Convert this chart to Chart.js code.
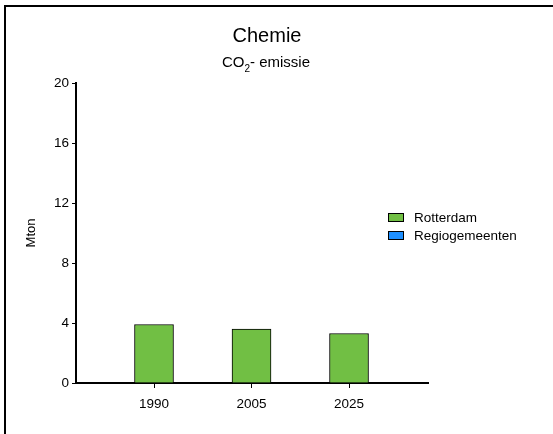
<!DOCTYPE html>
<html>
<head>
<meta charset="utf-8">
<script src="https://cdn.jsdelivr.net/npm/chart.js@4.4.1/dist/chart.umd.min.js"></script>
<style>
  html, body { margin: 0; padding: 0; background: #fff; }
  #c { display: block; }
</style>
</head>
<body>
<canvas id="c" width="553" height="434"></canvas>
<script>
// Chart data
const years = ['1990', '2005', '2025'];
const rotterdam = [3.9, 3.6, 3.3];
const regiogemeenten = [null, null, null];
const seriesNames = ['Rotterdam', 'Regiogemeenten'];
const yMin = 0, yMax = 20, yStep = 4;

const FONT = "'Liberation Sans', Arial, Helvetica, sans-serif";
const GREEN = '#71bf44';
const BLUE = '#1e8fff';

Chart.defaults.font.family = FONT;
Chart.defaults.color = '#000';

// Frame, titles, axis title and legend drawn on top of the chart
const decorations = {
  id: 'decorations',
  afterDraw(chart) {
    const ctx = chart.ctx;
    const area = chart.chartArea;
    ctx.save();

    // outer frame (top and left edges visible)
    ctx.strokeStyle = '#000';
    ctx.lineWidth = 2;
    ctx.beginPath();
    ctx.moveTo(5, 700);
    ctx.lineTo(5, 6);
    ctx.lineTo(700, 6);
    ctx.stroke();

    ctx.fillStyle = '#000';
    ctx.textBaseline = 'alphabetic';

    // main title
    ctx.font = '20px ' + FONT;
    ctx.textAlign = 'center';
    ctx.fillText('Chemie', 267, 41.5);

    // subtitle with subscript
    const main = '15px ' + FONT, sub = '10px ' + FONT;
    ctx.textAlign = 'left';
    ctx.font = main;
    const wCO = ctx.measureText('CO').width;
    const wRest = ctx.measureText('- emissie').width;
    ctx.font = sub;
    const w2 = ctx.measureText('2').width;
    let x = 266 - (wCO + w2 + wRest) / 2;
    ctx.font = main;
    ctx.fillText('CO', x, 67);
    x += wCO;
    ctx.font = sub;
    ctx.fillText('2', x, 71.5);
    x += w2;
    ctx.font = main;
    ctx.fillText('- emissie', x, 67);

    // y-axis title
    ctx.save();
    ctx.translate(31, (area.top + area.bottom) / 2);
    ctx.rotate(-Math.PI / 2);
    ctx.font = '13px ' + FONT;
    ctx.textAlign = 'center';
    ctx.textBaseline = 'middle';
    ctx.fillText('Mton', 0, 0);
    ctx.restore();

    // legend
    ctx.font = '13.5px ' + FONT;
    ctx.textAlign = 'left';
    ctx.textBaseline = 'middle';
    chart.data.datasets.forEach((ds, i) => {
      const y = 213 + i * 18;
      ctx.fillStyle = ds.backgroundColor;
      ctx.fillRect(388, y, 16, 9);
      ctx.strokeStyle = '#000';
      ctx.lineWidth = 1;
      ctx.strokeRect(388.5, y + 0.5, 15, 8);
      ctx.fillStyle = '#000';
      ctx.fillText(ds.label, 414, y + 5);
    });

    ctx.restore();
  }
};

new Chart(document.getElementById('c'), {
  type: 'bar',
  data: {
    datasets: [
      {
        label: seriesNames[0],
        data: rotterdam.map((v, i) => ({ x: i, y: v })),
        backgroundColor: GREEN,
        borderColor: '#000',
        borderWidth: 1,
        barThickness: 39,
        grouped: false
      },
      {
        label: seriesNames[1],
        data: regiogemeenten.map((v, i) => ({ x: i, y: v })),
        backgroundColor: BLUE,
        borderColor: '#000',
        borderWidth: 1,
        barThickness: 39,
        grouped: false
      }
    ]
  },
  options: {
    responsive: false,
    animation: false,
    devicePixelRatio: 1,
    layout: { padding: { left: 16, top: 83, right: 125, bottom: 11 } },
    plugins: {
      legend: { display: false },
      title: { display: false },
      tooltip: { enabled: false }
    },
    scales: {
      x: {
        type: 'linear',
        min: -0.8,
        max: 2.81,
        offset: false,
        afterBuildTicks(scale) { scale.ticks = years.map((_, i) => ({ value: i })); },
        afterFit(scale) { scale.height = 40; },
        grid: { display: true, offset: false, drawOnChartArea: false, drawTicks: true, tickLength: 5, color: '#000', lineWidth: 1 },
        border: { display: true, color: '#000', width: 2 },
        ticks: {
          callback: (v) => years[v] ?? '',
          color: '#000',
          font: { size: 13.5 },
          padding: 8,
          maxRotation: 0,
          autoSkip: false
        }
      },
      y: {
        min: yMin,
        max: yMax,
        afterFit(scale) { scale.width = 60; },
        grid: { display: true, drawOnChartArea: false, drawTicks: true, tickLength: 4, color: '#000', lineWidth: 1 },
        border: { display: true, color: '#000', width: 2 },
        ticks: {
          stepSize: yStep,
          color: '#000',
          font: { size: 13.5 },
          padding: 3
        }
      }
    }
  },
  plugins: [decorations]
});
</script>
</body>
</html>
